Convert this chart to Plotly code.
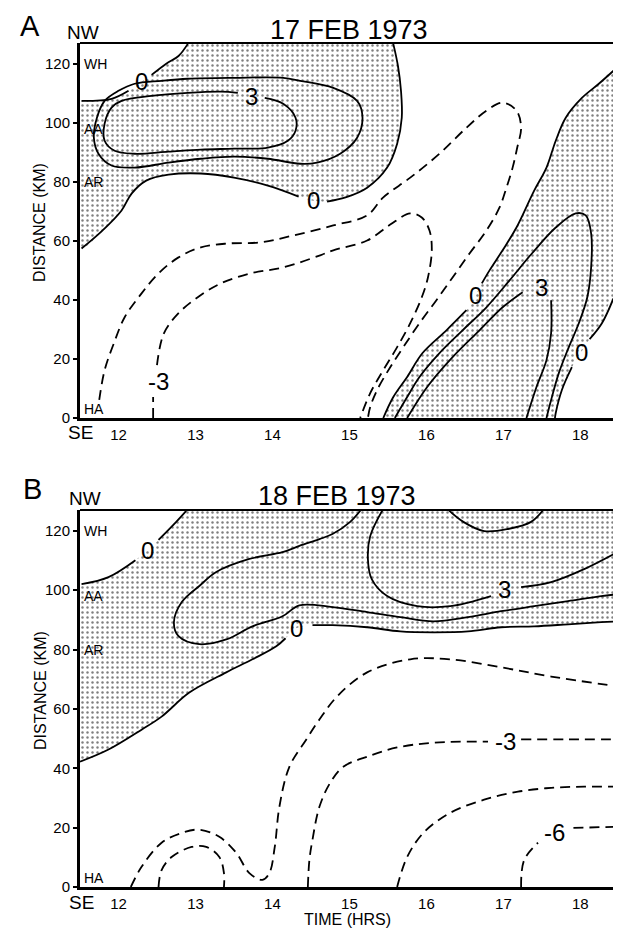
import plotly.graph_objects as go

FONT = "Liberation Sans, Arial, Helvetica, sans-serif"

# ---------------- axes / labels ----------------
X_RANGE = [11.5, 18.45]
Y_RANGE = [0, 127]
X_TICKS = [12, 13, 14, 15, 16, 17, 18]
Y_TICKS = [0, 20, 40, 60, 80, 100, 120]
PANEL_LETTERS = ["A", "B"]
PANEL_TITLES = ["17 FEB 1973", "18 FEB 1973"]
STATIONS = ["WH", "AA", "AR", "HA"]
STATION_KM = [120, 98, 80, 3]

# ---------------- Panel A : 17 FEB 1973 ----------------
A_ZERO_NW_T = [11.52, 11.91, 12.13, 12.30, 12.43, 12.62, 12.78, 12.90]
A_ZERO_NW_KM = [107.4, 108.1, 110.8, 113.9, 116.2, 120.0, 122.6, 126.7]
A_ZERO_NW_LAB = 3
A_ZERO_UP_T = [15.57, 15.63, 15.67, 15.68, 15.62, 15.49, 15.23, 14.95, 14.71, 14.53,
               14.34, 13.94, 13.50, 13.07, 12.65, 12.36, 12.17, 12.04, 11.78, 11.52]
A_ZERO_UP_KM = [126.7, 119.3, 110.8, 101.7, 92.9, 84.8, 78.0, 74.7, 73.3, 73.6,
                75.0, 78.7, 81.4, 82.8, 82.4, 80.4, 76.0, 70.3, 63.2, 57.4]
A_ZERO_UP_LAB = 9
A_MID_UP_T = [12.21, 12.56, 12.90, 13.50, 14.14, 14.36, 14.79, 15.10, 15.17, 15.10, 14.88,
              14.58, 14.36, 13.94, 13.50, 13.07, 12.65, 12.21, 11.91, 11.74, 11.68, 11.72,
              11.82, 12.00, 12.21]
A_MID_UP_KM = [113.2, 114.2, 114.9, 115.2, 115.2, 114.2, 111.8, 107.4, 101.7, 94.9, 89.5,
               86.5, 86.1, 87.8, 88.5, 87.8, 86.5, 84.8, 85.5, 89.5, 94.9, 101.7,
               107.4, 110.8, 113.2]
A_THREE_UP_T = [13.73, 13.90, 14.14, 14.30, 14.30, 14.20, 13.94, 13.50, 13.07, 12.65, 12.21,
                11.95, 11.82, 11.82, 11.91, 12.04, 12.43, 12.90, 13.33, 13.55, 13.73]
A_THREE_UP_KM = [108.8, 108.4, 106.4, 101.7, 97.3, 93.9, 91.6, 91.2, 90.9, 90.2, 89.5,
                 90.5, 93.9, 99.7, 105.1, 107.4, 109.1, 110.1, 110.5, 110.1, 108.8]
A_THREE_UP_LAB = 0
A_ZERO_R_T = [18.43, 18.24, 18.02, 17.81, 17.68, 17.56, 17.40, 17.17, 16.99, 16.82, 16.72,
              16.64, 16.52, 16.26, 15.95, 15.75, 15.57, 15.44]
A_ZERO_R_KM = [117.6, 113.2, 108.4, 101.7, 93.9, 84.8, 77.0, 64.5, 56.8, 50.0, 45.6,
               41.6, 36.5, 29.7, 22.0, 13.9, 7.1, 0.0]
A_ZERO_R_LAB = 11
A_ZERO_LR_T = [18.43, 18.28, 18.12, 18.01, 17.89, 17.76, 17.68, 17.67]
A_ZERO_LR_KM = [40.5, 32.1, 26.7, 22.3, 17.2, 9.5, 1.7, 0.0]
A_ZERO_LR_LAB = 3
A_MID_R_T = [15.59, 15.75, 15.91, 16.17, 16.47, 16.78, 17.08, 17.37, 17.68, 17.94, 18.07,
             18.14, 18.14, 18.09, 17.98, 17.85, 17.72, 17.62, 17.56]
A_MID_R_KM = [0.0, 7.1, 13.9, 22.0, 29.7, 37.5, 46.6, 55.7, 64.5, 69.3, 68.6,
              62.5, 51.0, 40.9, 32.1, 24.0, 15.2, 6.1, 0.0]
A_THREE_R_T = [15.75, 16.01, 16.34, 16.69, 16.99, 17.25, 17.49, 17.62, 17.62, 17.56, 17.43, 17.30]
A_THREE_R_KM = [0.0, 10.5, 20.6, 29.7, 37.5, 42.6, 44.3, 39.9, 28.7, 19.6, 10.5, 0.0]
A_THREE_R_LAB = 6
A_NEG_OUT_T = [11.75, 11.82, 11.94, 12.08, 12.30, 12.52, 12.78, 13.07, 13.42, 13.85, 14.27,
               14.79, 15.23, 15.44, 15.79, 16.17, 16.52, 16.78, 16.99, 17.17, 17.23, 17.18,
               17.12, 17.04, 16.95, 16.78, 16.56, 16.34, 16.13, 15.91, 15.70, 15.53, 15.36,
               15.27, 15.24]
A_NEG_OUT_KM = [6.1, 16.2, 25.3, 34.1, 42.2, 49.0, 54.4, 57.8, 59.1, 59.5, 61.8,
                65.2, 68.6, 74.7, 81.4, 89.5, 98.3, 104.1, 106.8, 104.1, 98.3, 91.6,
                84.8, 78.0, 71.3, 63.5, 55.7, 47.6, 39.9, 32.1, 24.0, 17.2, 9.5,
                3.7, 0.0]
A_NEG3_T = [12.45, 12.45, 12.52, 12.50, 12.59, 12.78, 13.03, 13.33, 13.72, 14.14, 14.62, 14.79,
            15.23, 15.53, 15.79, 15.94, 16.04, 16.07, 16.02, 15.94, 15.79, 15.62, 15.44,
            15.27, 15.14]
A_NEG3_KM = [0.0, 7.1, 12.5, 17.9, 28.7, 35.5, 40.9, 45.6, 49.0, 51.0, 55.1, 56.8,
             60.1, 65.5, 69.3, 67.9, 63.5, 56.8, 47.6, 40.9, 32.1, 24.0, 16.2,
             8.4, 0.0]
A_NEG3_LAB = 2

# ---------------- Panel B : 18 FEB 1973 ----------------
B_ZERO_NW_T = [11.52, 11.87, 12.22, 12.38, 12.52, 12.75, 12.88]
B_ZERO_NW_KM = [102.0, 104.4, 110.1, 113.5, 116.9, 123.0, 126.7]
B_ZERO_NW_LAB = 3
B_ZERO_LO_T = [11.50, 11.87, 12.30, 12.56, 12.92, 13.40, 13.74, 14.05, 14.17, 14.31, 14.52,
               14.78, 15.23, 15.66, 16.09, 16.54, 16.97, 17.40, 17.84, 18.27, 18.48]
B_ZERO_LO_KM = [42.2, 46.3, 53.0, 57.4, 65.5, 72.3, 76.7, 81.1, 83.8, 87.2, 88.2,
                88.2, 87.5, 86.1, 85.8, 86.1, 87.5, 87.8, 88.5, 89.2, 89.5]
B_ZERO_LO_LAB = 9
B_MID_T = [15.16, 15.01, 14.78, 14.61, 14.35, 14.13, 13.70, 13.27, 13.05, 12.82, 12.72, 12.78,
           13.05, 13.40, 13.74, 14.13, 14.35, 14.78, 15.23, 15.66, 16.09, 16.54, 16.97,
           17.40, 17.84, 18.27, 18.48]
B_MID_KM = [127.4, 123.0, 118.9, 117.2, 114.9, 112.8, 110.5, 106.1, 101.4, 95.9, 89.2, 84.5,
            81.8, 83.4, 87.8, 91.2, 94.9, 94.3, 92.6, 90.9, 89.5, 90.9, 92.9,
            94.6, 96.3, 98.0, 98.6]
B_THREE_T = [15.44, 15.27, 15.24, 15.29, 15.49, 15.88, 16.31, 16.84, 17.02, 17.23, 17.62, 18.05, 18.48]
B_THREE_KM = [127.4, 118.2, 110.5, 103.7, 98.0, 94.6, 94.6, 98.0, 100.3, 101.0, 102.7, 107.1, 112.8]
B_THREE_LAB = 8
B_TOP_T = [16.27, 16.48, 16.75, 17.06, 17.36, 17.53]
B_TOP_KM = [127.4, 123.0, 119.9, 120.6, 123.0, 127.4]
B_NEG_OUT_T = [12.16, 12.30, 12.56, 12.82, 13.05, 13.31, 13.53, 13.70, 13.87, 13.96, 14.03,
               14.09, 14.22, 14.44, 14.61, 14.84, 15.23, 15.79, 16.31, 16.97, 17.62, 18.48]
B_NEG_OUT_KM = [0.0, 6.8, 14.9, 18.2, 19.3, 16.9, 11.5, 4.7, 2.4, 4.7, 13.5,
                27.0, 40.5, 49.7, 56.4, 64.2, 72.3, 76.7, 76.7, 74.0, 70.9, 67.6]
B_NEG_BUMP_T = [12.52, 12.56, 12.69, 12.95, 13.14, 13.31, 13.37, 13.37]
B_NEG_BUMP_KM = [0.0, 5.7, 10.1, 13.5, 13.5, 10.1, 4.7, 0.0]
B_NEG3_T = [14.46, 14.48, 14.52, 14.61, 14.75, 14.92, 15.23, 15.62, 16.09, 16.80, 17.03, 17.23, 17.84, 18.48]
B_NEG3_KM = [0.0, 9.1, 15.9, 27.0, 35.1, 40.5, 43.9, 47.0, 48.6, 49.0, 49.0, 49.7, 49.7, 49.7]
B_NEG3_LAB = 10
B_NEG45_T = [15.62, 15.75, 15.96, 16.31, 16.75, 17.19, 17.62, 18.05, 18.48]
B_NEG45_KM = [0.0, 10.1, 18.2, 25.0, 29.4, 32.1, 33.4, 33.8, 33.8]
B_NEG6_T = [17.23, 17.27, 17.45, 17.66, 17.91, 18.48]
B_NEG6_KM = [0.0, 9.1, 14.9, 18.2, 19.9, 20.3]
B_NEG6_LAB = 3

# ---------------- figure geometry ----------------
# The page body has an 8px margin; the figure is sized/offset so the
# rendered page matches the 621x928 target.
PAGE_OFF = 8
W, H = 621 - PAGE_OFF, 928 - PAGE_OFF
ML, MR, MT, MB = 80 - PAGE_OFF, 6, 43 - PAGE_OFF, 41
PW, PH = W - ML - MR, H - MT - MB
A_BOTTOM_PX, B_TOP_PX = 418, 510   # page pixels


def paper_x(px):
    return (px - PAGE_OFF - ML) / PW


def paper_y(py):
    return (H - MB - (py - PAGE_OFF)) / PH


XL, XR = X_RANGE[0] - 0.5, X_RANGE[1] + 0.5
YB, YT = Y_RANGE[0] - 10, Y_RANGE[1] + 10

STIPPLE = dict(shape=".", size=5, solidity=0.19, fgcolor="black", bgcolor="white")
LINE_W = 1.8
DASH = "10px,6px"

fig = go.Figure()


def add_fill(xs, ys, xa, ya):
    fig.add_trace(go.Scatter(
        x=xs, y=ys, mode="lines", fill="toself", fillcolor="white",
        fillpattern=STIPPLE, line=dict(width=0, shape="spline", color="rgba(0,0,0,0)"),
        hoverinfo="skip", showlegend=False, xaxis=xa, yaxis=ya))


def add_line(t, km, xa, ya, dashed=False, lab=None, text=None):
    xs, ys = list(t), list(km)
    if lab is not None:
        closed = (t[0] == t[-1] and km[0] == km[-1])
        xs[lab] = None
        ys[lab] = None
        if closed and lab == 0:
            xs[-1] = None
            ys[-1] = None
    fig.add_trace(go.Scatter(
        x=xs, y=ys, mode="lines",
        line=dict(color="black", width=LINE_W, shape="spline", smoothing=1.0,
                  dash=DASH if dashed else "solid"),
        connectgaps=False, hoverinfo="skip", showlegend=False, xaxis=xa, yaxis=ya))
    if lab is not None:
        fig.add_annotation(x=t[lab], y=km[lab], xref=xa, yref=ya, text=text,
                           showarrow=False, font=dict(family=FONT, size=24, color="black"),
                           xanchor="center", yanchor="middle")


# ---- Panel A fills ----
add_fill([XL] + A_ZERO_NW_T + [A_ZERO_NW_T[-1], A_ZERO_UP_T[0]] + A_ZERO_UP_T + [XL],
         [A_ZERO_NW_KM[0]] + A_ZERO_NW_KM + [YT, YT] + A_ZERO_UP_KM + [A_ZERO_UP_KM[-1]],
         "x", "y")
add_fill([XR] + A_ZERO_R_T + [A_ZERO_R_T[-1], A_ZERO_LR_T[-1]] + A_ZERO_LR_T[::-1] + [XR],
         [A_ZERO_R_KM[0]] + A_ZERO_R_KM + [YB, YB] + A_ZERO_LR_KM[::-1] + [A_ZERO_LR_KM[0]],
         "x", "y")
# ---- Panel B fill ----
add_fill([XL] + B_ZERO_NW_T + [B_ZERO_NW_T[-1], XR, XR] + B_ZERO_LO_T[::-1] + [XL],
         [B_ZERO_NW_KM[0]] + B_ZERO_NW_KM + [YT, YT, B_ZERO_LO_KM[-1]] + B_ZERO_LO_KM[::-1]
         + [B_ZERO_LO_KM[0]],
         "x2", "y2")

# ---- Panel A lines ----
add_line(A_ZERO_NW_T, A_ZERO_NW_KM, "x", "y", lab=A_ZERO_NW_LAB, text="0")
add_line(A_ZERO_UP_T, A_ZERO_UP_KM, "x", "y", lab=A_ZERO_UP_LAB, text="0")
add_line(A_MID_UP_T, A_MID_UP_KM, "x", "y")
add_line(A_THREE_UP_T, A_THREE_UP_KM, "x", "y", lab=A_THREE_UP_LAB, text="3")
add_line(A_ZERO_R_T, A_ZERO_R_KM, "x", "y", lab=A_ZERO_R_LAB, text="0")
add_line(A_ZERO_LR_T, A_ZERO_LR_KM, "x", "y", lab=A_ZERO_LR_LAB, text="0")
add_line(A_MID_R_T, A_MID_R_KM, "x", "y")
add_line(A_THREE_R_T, A_THREE_R_KM, "x", "y", lab=A_THREE_R_LAB, text="3")
add_line(A_NEG_OUT_T, A_NEG_OUT_KM, "x", "y", dashed=True)
add_line(A_NEG3_T, A_NEG3_KM, "x", "y", dashed=True, lab=A_NEG3_LAB, text="-3")

# ---- Panel B lines ----
add_line(B_ZERO_NW_T, B_ZERO_NW_KM, "x2", "y2", lab=B_ZERO_NW_LAB, text="0")
add_line(B_ZERO_LO_T, B_ZERO_LO_KM, "x2", "y2", lab=B_ZERO_LO_LAB, text="0")
add_line(B_MID_T, B_MID_KM, "x2", "y2")
add_line(B_THREE_T, B_THREE_KM, "x2", "y2", lab=B_THREE_LAB, text="3")
add_line(B_TOP_T, B_TOP_KM, "x2", "y2")
add_line(B_NEG_OUT_T, B_NEG_OUT_KM, "x2", "y2", dashed=True)
add_line(B_NEG_BUMP_T, B_NEG_BUMP_KM, "x2", "y2", dashed=True)
add_line(B_NEG3_T, B_NEG3_KM, "x2", "y2", dashed=True, lab=B_NEG3_LAB, text="-3")
add_line(B_NEG45_T, B_NEG45_KM, "x2", "y2", dashed=True)
add_line(B_NEG6_T, B_NEG6_KM, "x2", "y2", dashed=True, lab=B_NEG6_LAB, text="-6")

# ---------------- axes ----------------
a_dom = [paper_y(A_BOTTOM_PX), 1.0]
b_dom = [0.0, paper_y(B_TOP_PX)]

xcommon = dict(range=X_RANGE, tickvals=X_TICKS, ticktext=[str(v) for v in X_TICKS],
               showline=True, linewidth=3, linecolor="black", showgrid=False, zeroline=False,
               ticks="outside", ticklen=1, tickcolor="rgba(0,0,0,0)",
               tickfont=dict(family=FONT, size=15, color="black"), fixedrange=True)
ycommon = dict(range=Y_RANGE, tickvals=Y_TICKS, ticktext=[str(v) for v in Y_TICKS],
               showline=True, linewidth=3, linecolor="black", showgrid=False, zeroline=False,
               ticks="outside", ticklen=4, tickwidth=1.5, tickcolor="black",
               tickfont=dict(family=FONT, size=15, color="black"), fixedrange=True)

fig.update_layout(
    width=W, height=H,
    margin=dict(l=ML, r=MR, t=MT, b=MB),
    paper_bgcolor="white", plot_bgcolor="rgba(0,0,0,0)",
    showlegend=False,
    xaxis=dict(domain=[0, 1], anchor="y", **xcommon),
    yaxis=dict(domain=a_dom, anchor="x", **ycommon),
    xaxis2=dict(domain=[0, 1], anchor="y2", **xcommon),
    yaxis2=dict(domain=b_dom, anchor="x2", **ycommon),
)

for xa, ya in (("x", "y"), ("x2", "y2")):
    fig.add_shape(type="line", xref=xa + " domain", yref=ya + " domain",
                  x0=0, x1=1, y0=1, y1=1, line=dict(color="black", width=2))
    fig.add_shape(type="line", xref=xa + " domain", yref=ya + " domain",
                  x0=1, x1=1, y0=0, y1=1, line=dict(color="black", width=2))

for xa, ya in (("x", "y"), ("x2", "y2")):
    for name, km in zip(STATIONS, STATION_KM):
        fig.add_annotation(x=0, y=km, xref=xa + " domain", yref=ya, text=name,
                           showarrow=False, xanchor="left", yanchor="middle", xshift=2,
                           font=dict(family=FONT, size=14, color="black"))


def txt(px, py, text, size, angle=0):
    fig.add_annotation(x=paper_x(px), y=paper_y(py), xref="paper", yref="paper",
                       text=text, showarrow=False, xanchor="center", yanchor="middle",
                       textangle=angle, borderpad=0,
                       font=dict(family=FONT, size=size, color="black"))


txt(30, 26, PANEL_LETTERS[0], 29)
txt(83, 32, "NW", 19)
txt(349, 30, PANEL_TITLES[0], 27)
txt(80, 432, "SE", 19)
txt(40, 223, "DISTANCE (KM)", 16, -90)
txt(32, 489, PANEL_LETTERS[1], 29)
txt(85, 498, "NW", 19)
txt(337, 496, PANEL_TITLES[1], 27)
txt(81, 902, "SE", 19)
txt(40, 691, "DISTANCE (KM)", 16, -90)
txt(347, 919, "TIME (HRS)", 16)

fig.write_html("out.html")
